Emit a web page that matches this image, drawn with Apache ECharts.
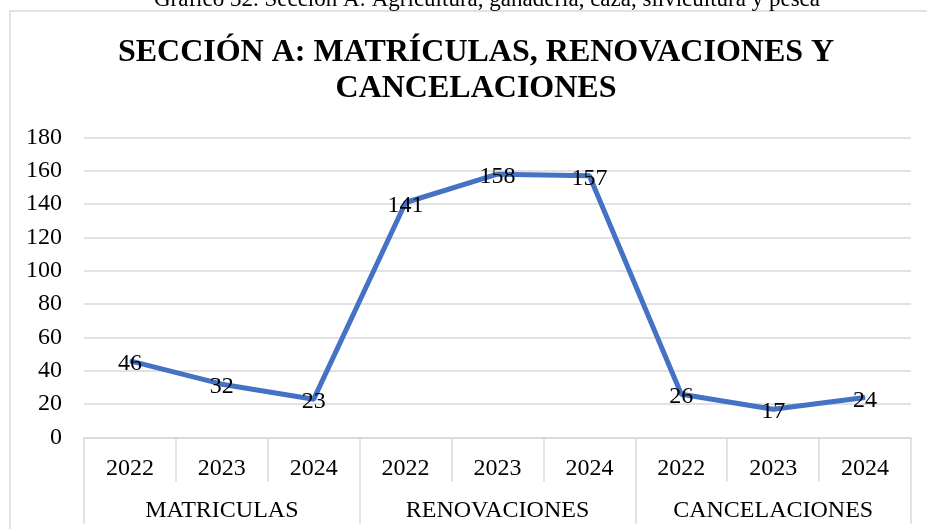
<!DOCTYPE html>
<html>
<head>
<meta charset="utf-8">
<script src="https://cdn.jsdelivr.net/npm/echarts@6/dist/echarts.min.js"></script>
<style>
html,body{margin:0;padding:0;background:#fff;}
#chart{width:927px;height:529px;}
</style>
</head>
<body>
<div id="chart"></div>
<script>
const years = ['2022','2023','2024','2022','2023','2024','2022','2023','2024'];
const groups = ['MATRICULAS','RENOVACIONES','CANCELACIONES'];
const values = [46, 32, 23, 141, 158, 157, 26, 17, 24];
const yTicks = { min: 0, max: 180, interval: 20 };
const subtitle = 'Gráfico 32. Sección A: Agricultura, ganadería, caza, silvicultura y pesca';
const title = 'SECCIÓN A: MATRÍCULAS, RENOVACIONES Y\nCANCELACIONES';

const serif = '"Liberation Serif", "Times New Roman", serif';
const gridColor = '#D9D9D9';

const chart = echarts.init(document.getElementById('chart'));
chart.setOption({
  animation: false,
  backgroundColor: '#fff',
  graphic: [
    { type: 'rect', shape: { x: 10, y: 11, width: 940, height: 540 },
      style: { fill: 'none', stroke: gridColor, lineWidth: 1.5 }, silent: true },
    { type: 'text', x: 487, y: 0,
      style: { text: subtitle, font: '23px ' + serif, fill: '#000', textAlign: 'center', textVerticalAlign: 'middle' } },
    { type: 'text', x: 476, y: 35,
      style: { text: title, font: 'bold 32px ' + serif, fill: '#000', textAlign: 'center', textVerticalAlign: 'top', lineHeight: 36 } }
  ],
  grid: { left: 84, right: 16, top: 137.5, bottom: 91.5, containLabel: false },
  xAxis: [
    {
      type: 'category', data: years, boundaryGap: true,
      axisLine: { show: true, lineStyle: { color: gridColor, width: 1.5 } },
      axisTick: { show: true, interval: 0, length: 44, lineStyle: { color: gridColor, width: 1.5 } },
      axisLabel: { interval: 0, margin: 19, fontFamily: serif, fontSize: 24, color: '#000' }
    },
    {
      type: 'category', data: groups, boundaryGap: true, position: 'bottom',
      axisLine: { show: false },
      axisTick: { show: true, interval: 0, length: 86, lineStyle: { color: gridColor, width: 1.5 } },
      axisLabel: { interval: 0, margin: 61, fontFamily: serif, fontSize: 24, color: '#000' }
    }
  ],
  yAxis: {
    type: 'value', min: yTicks.min, max: yTicks.max, interval: yTicks.interval,
    axisLine: { show: false }, axisTick: { show: false },
    axisLabel: { margin: 22, fontFamily: serif, fontSize: 24, color: '#000' },
    splitLine: { lineStyle: { color: gridColor, width: 1.5 } }
  },
  series: [{
    type: 'line', data: values, xAxisIndex: 0,
    symbol: 'circle', symbolSize: 1, showSymbol: true,
    itemStyle: { color: '#4472C4' },
    lineStyle: { color: '#4472C4', width: 5 },
    label: { show: true, position: 'inside', offset: [0, 3], fontFamily: serif, fontSize: 24, color: '#000' }
  }]
});
</script>
</body>
</html>
